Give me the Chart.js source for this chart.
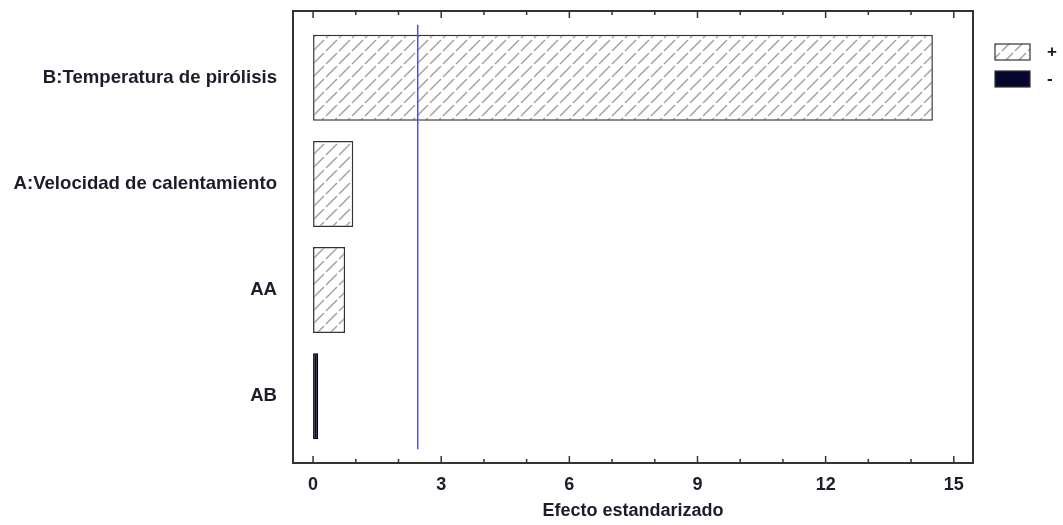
<!DOCTYPE html>
<html>
<head>
<meta charset="utf-8">
<script src="https://cdn.jsdelivr.net/npm/chart.js@4"></script>
<style>
  html, body { margin: 0; padding: 0; background: #fff; }
  #wrap { width: 1063px; height: 525px; position: relative; }
</style>
</head>
<body>
<div id="wrap"><canvas id="chartPareto"></canvas></div>
<script>
/* DATOS */
const efectos = ['B:Temperatura de pirólisis', 'A:Velocidad de calentamiento', 'AA', 'AB'];
const magnitudes = [14.51, 0.94, 0.75, 0.12];
const signos = ['+', '+', '+', '-'];
const valorCritico = 2.45;
const ticksX = [0, 3, 6, 9, 12, 15];
const leyenda = ['+', '-'];

const textColor = '#1c1c2a';
const fuente = { family: 'Liberation Sans, Arial, sans-serif', size: 18, weight: 'bold' };

/* PATRÓN RAYADO */
function crearRayado() {
  const c = document.createElement('canvas');
  c.width = 13; c.height = 13;
  const g = c.getContext('2d');
  g.fillStyle = '#fff';
  g.fillRect(0, 0, 13, 13);
  g.strokeStyle = '#a0a0a0';
  g.lineWidth = 1.4;
  g.beginPath();
  g.moveTo(1, 12);
  g.lineTo(12, 1);
  g.stroke();
  return g.createPattern(c, 'repeat');
}
const rayado = crearRayado();
const azulOscuro = '#07072e';

/* PLUGIN: marco, marcas, línea crítica y leyenda */
const marcoPlugin = {
  id: 'marco',
  afterDatasetsDraw(chart) {
    const { ctx, chartArea: a, scales } = chart;
    const x = scales.x, y = scales.y;
    ctx.save();

    // línea del valor crítico
    const xc = x.getPixelForValue(valorCritico);
    ctx.strokeStyle = '#4a4aff';
    ctx.lineWidth = 1.5;
    ctx.beginPath();
    ctx.moveTo(xc, y.getPixelForValue(-0.5));
    ctx.lineTo(xc, y.getPixelForValue(efectos.length - 0.5));
    ctx.stroke();

    // marco
    ctx.strokeStyle = '#333';
    ctx.lineWidth = 2;
    ctx.strokeRect(a.left, a.top, a.right - a.left, a.bottom - a.top);

    // marcas hacia dentro, arriba y abajo
    ctx.lineWidth = 1.5;
    for (let v = 0; v <= 15; v++) {
      const px = x.getPixelForValue(v);
      const len = v % 3 === 0 ? 7 : 4;
      ctx.beginPath();
      ctx.moveTo(px, a.bottom); ctx.lineTo(px, a.bottom - len);
      ctx.moveTo(px, a.top); ctx.lineTo(px, a.top + len);
      ctx.stroke();
    }

    // leyenda
    const lx = a.right + 22;
    [rayado, azulOscuro].forEach((fill, i) => {
      const ly = a.top + 33 + i * 27;
      ctx.fillStyle = fill;
      ctx.fillRect(lx, ly, 35, 16);
      ctx.strokeStyle = '#333';
      ctx.lineWidth = 1.2;
      ctx.strokeRect(lx, ly, 35, 16);
      ctx.fillStyle = textColor;
      ctx.font = 'bold 17px Liberation Sans, Arial, sans-serif';
      ctx.textBaseline = 'middle';
      ctx.fillText(leyenda[i], lx + 52, ly + 8);
    });
    ctx.restore();
  }
};

new Chart(document.getElementById('chartPareto'), {
  type: 'bar',
  data: {
    datasets: [{
      data: magnitudes.map((m, i) => ({ x: m, y: i })),
      backgroundColor: signos.map(s => s === '+' ? rayado : azulOscuro),
      borderColor: signos.map(s => s === '+' ? '#333' : '#000'),
      borderWidth: 1.5,
      borderSkipped: false,
      barPercentage: 0.9,
      categoryPercentage: 0.9,
    }],
  },
  options: {
    indexAxis: 'y',
    responsive: true,
    maintainAspectRatio: false,
    animation: false,
    layout: { padding: { top: 11, right: 90, left: 0, bottom: 0 } },
    plugins: { legend: { display: false }, tooltip: { enabled: false } },
    scales: {
      x: {
        type: 'linear',
        min: -0.47,
        max: 15.45,
        afterBuildTicks: s => { s.ticks = ticksX.map(v => ({ value: v })); },
        grid: { display: false, drawTicks: false },
        border: { display: false },
        ticks: { color: textColor, font: fuente, padding: 11, maxRotation: 0 },
        title: {
          display: true,
          text: 'Efecto estandarizado',
          color: textColor,
          font: fuente,
          padding: { top: 0, bottom: 3 },
        },
        afterFit: s => { s.height = 62; s.paddingLeft = 0; s.paddingRight = 0; },
      },
      y: {
        type: 'linear',
        reverse: true,
        offset: false,
        min: -0.63,
        max: 3.63,
        afterBuildTicks: s => { s.ticks = efectos.map((_, i) => ({ value: i })); },
        grid: { display: false, drawTicks: false },
        border: { display: false },
        ticks: {
          color: textColor,
          font: { ...fuente, size: 18.6 },
          padding: 16,
          callback: v => efectos[v],
        },
        afterFit: s => { s.width = 293; s.paddingTop = 0; s.paddingBottom = 0; },
      },
    },
  },
  plugins: [marcoPlugin],
});
</script>
</body>
</html>
